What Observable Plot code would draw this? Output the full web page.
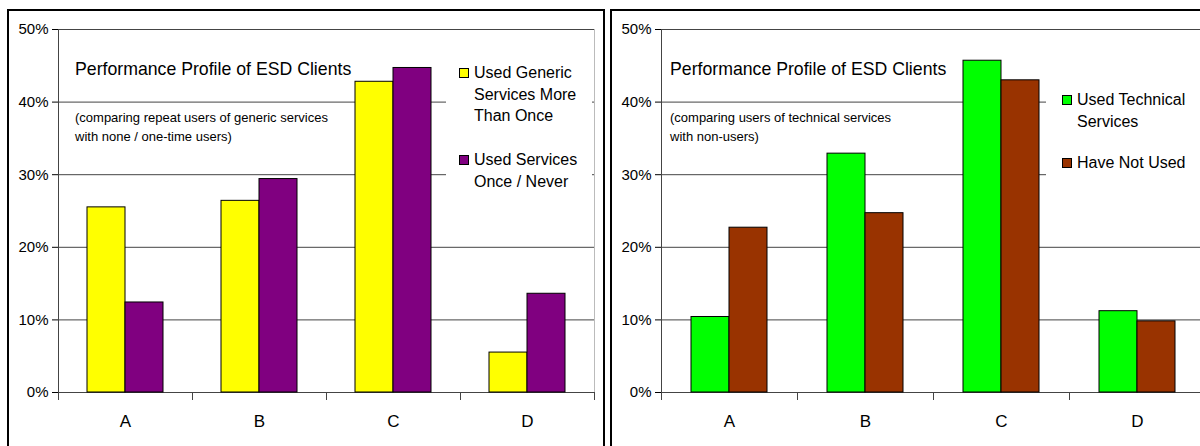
<!DOCTYPE html>
<html><head><meta charset="utf-8">
<script src="https://cdn.jsdelivr.net/npm/d3@7"></script>
<script src="https://cdn.jsdelivr.net/npm/@observablehq/plot@0.6"></script>
<style>
html,body{margin:0;padding:0;background:#fff;overflow:hidden;}
#root{position:relative;width:1200px;height:446px;overflow:hidden;font-family:"Liberation Sans",Arial,sans-serif;color:#000;}
.chart{position:absolute;top:0;}
.chart svg{max-width:none !important;display:block;}
.border{position:absolute;border:2px solid #000;box-sizing:border-box;pointer-events:none;}
.title{position:absolute;font-size:17.7px;line-height:1;white-space:nowrap;}
.sub{position:absolute;font-size:13px;line-height:19px;white-space:nowrap;}
.legend{position:absolute;background:#fff;}
.item{position:absolute;font-size:16px;line-height:21.5px;width:116px;}
.sw{position:absolute;width:8px;height:8px;border:1px solid #000;}
</style></head>
<body>
<div id="root"></div>
<script>
const categories = ["A", "B", "C", "D"];
const yTicks = [0, 10, 20, 30, 40, 50];

const leftSeries = ["Used Generic Services More Than Once", "Used Services Once / Never"];
const leftFirst = [25.5, 26.4, 42.8, 5.5];
const leftSecond = [12.4, 29.4, 44.7, 13.6];
const leftColors = ["#ffff00", "#800080"];
const leftTitle = "Performance Profile of ESD Clients";
const leftSub = ["(comparing repeat users of generic services", "with none / one-time users)"];

const rightSeries = ["Used Technical Services", "Have Not Used"];
const rightFirst = [10.4, 32.9, 45.7, 11.2];
const rightSecond = [22.7, 24.7, 43.0, 9.8];
const rightColors = ["#00ff00", "#993300"];
const rightTitle = "Performance Profile of ESD Clients";
const rightSub = ["(comparing users of technical services", "with non-users)"];

function toRows(first, second, series) {
  return categories.flatMap((c, i) => [
    {category: c, series: series[0], value: first[i]},
    {category: c, series: series[1], value: second[i]}
  ]);
}

function chart(data, series, colors, width, marginLeft) {
  const H = 446, mt = 29, mb = 54;
  const plotHeight = H - mt - mb;
  return Plot.plot({
    width, height: H,
    marginLeft, marginRight: 10, marginTop: mt, marginBottom: mb,
    style: {fontFamily: '"Liberation Sans", Arial, sans-serif', fontSize: "15px", background: "transparent", color: "#000"},
    fx: {domain: categories, padding: 0, label: null},
    x: {domain: series, paddingInner: 0, paddingOuter: 0.75, axis: null},
    y: {domain: [0, 50]},
    color: {domain: series, range: colors},
    marks: [
      Plot.gridY(yTicks, {stroke: "#444", strokeOpacity: 1}),
      Plot.frame({anchor: "right", facetAnchor: "right", stroke: "#bbb"}),
      Plot.barY(data, {fx: "category", x: "series", y: "value", fill: "series", stroke: "#000", strokeWidth: 1}),
      Plot.frame({anchor: "left", insetTop: plotHeight, insetBottom: -7, stroke: "#444"}),
      Plot.frame({anchor: "right", insetTop: plotHeight, insetBottom: -7, stroke: "#444"}),
      Plot.frame({anchor: "left", facetAnchor: "left", stroke: "#444"}),
      Plot.axisY(yTicks, {tickFormat: d => d + "%", tickSize: 6, tickPadding: 4, label: null, fontSize: 15}),
      Plot.axisFx({anchor: "bottom", tickSize: 0, tickPadding: 22, label: null, fontSize: 17})
    ]
  });
}

const root = document.getElementById("root");
function place(el, left, width) {
  const wrap = document.createElement("div");
  wrap.className = "chart";
  wrap.style.left = left + "px";
  wrap.style.width = width + "px";
  wrap.appendChild(el);
  root.appendChild(wrap);
}
place(chart(toRows(leftFirst, leftSecond, leftSeries), leftSeries, leftColors, 605, 57), 0, 605);
place(chart(toRows(rightFirst, rightSecond, rightSeries), rightSeries, rightColors, 610, 56), 605, 610);

function addDiv(cls, css, html) {
  const d = document.createElement("div");
  d.className = cls;
  Object.assign(d.style, css);
  if (html != null) d.innerHTML = html;
  root.appendChild(d);
  return d;
}

function decorate(o) {
  addDiv("legend", {left: o.boxLeft + "px", top: "48px", width: o.boxWidth + "px", height: "150px"});
  addDiv("title", {left: o.textLeft + "px", top: "61.3px"}).textContent = o.title;
  addDiv("sub", {left: o.textLeft + "px", top: "108px"}, o.sub.join("<br>"));
  o.series.forEach((s, i) => {
    addDiv("sw", {left: o.swLeft + "px", top: (o.itemTops[i] + 5.75) + "px", background: o.colors[i]});
    addDiv("item", {left: (o.swLeft + 15) + "px", top: o.itemTops[i] + "px"}).textContent = s;
  });
}
decorate({boxLeft: 446, boxWidth: 146, textLeft: 75, title: leftTitle, sub: leftSub,
  series: leftSeries, colors: leftColors, swLeft: 459, itemTops: [62.3, 149.3]});
decorate({boxLeft: 1046, boxWidth: 160, textLeft: 670, title: rightTitle, sub: rightSub,
  series: rightSeries, colors: rightColors, swLeft: 1062, itemTops: [89.3, 152.3]});

addDiv("border", {left: "7px", top: "9px", width: "598px", height: "460px"});
addDiv("border", {left: "610px", top: "9px", width: "620px", height: "460px"});
</script>
</body></html>
